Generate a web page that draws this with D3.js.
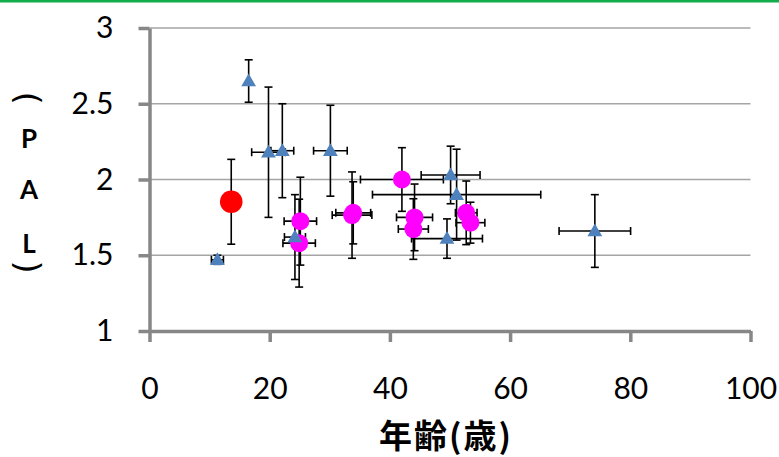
<!DOCTYPE html>
<html>
<head>
<meta charset="utf-8">
<script src="https://cdn.jsdelivr.net/npm/d3@7"></script>
<style>
  html, body { margin: 0; padding: 0; background: #fff; }
  svg { display: block; }
</style>
</head>
<body>
<svg id="chart" width="779" height="457"></svg>
<script>
// Axis ticks
const xTicks = [0, 20, 40, 60, 80, 100];
const yTicks = [1, 1.5, 2, 2.5, 3];

// Blue triangles: age, PAL, and their error half-widths
const triAge    = [11.3, 16.5, 19.8, 22.1, 30.1, 24.2, 49.5, 50.1, 51.1, 74.1];
const triPal    = [1.47, 2.65, 2.18, 2.19, 2.19, 1.62, 1.61, 2.03, 1.90, 1.66];
const triAgeErr = [1.0, 0, 2.8, 1.9, 2.8, 1.75, 5.9, 4.9, 14.0, 5.95];
const triPalErr = [0.03, 0.14, 0.43, 0.31, 0.30, 0.28, 0.13, 0.19, 0.30, 0.24];

// Magenta circles
const magAge    = [25.1, 24.9, 33.7, 33.9, 42.0, 44.1, 43.9, 52.7, 53.4];
const magPal    = [1.725, 1.58, 1.765, 1.78, 2.00, 1.75, 1.673, 1.78, 1.715];
const magAgeErr = [2.7, 2.7, 3.3, 2.9, 6.9, 3.0, 2.5, 1.8, 2.4];
const magPalErr = [0.29, 0.29, 0.285, 0.205, 0.21, 0.22, 0.20, 0.21, 0.135];

// Red circle
const redAge    = [13.6];
const redPal    = [1.853];
const redAgeErr = [0];
const redPalErr = [0.28];

const svg = d3.select("#chart");

// top rule
svg.append("rect").attr("x", 0).attr("y", 0).attr("width", 779).attr("height", 2.5).attr("fill", "#12ad4b");

const x = d3.scaleLinear().domain([0, 100]).range([149.5, 750.5]);
const y = d3.scaleLinear().domain([1, 3]).range([331, 28]);

// horizontal gridlines
svg.append("g").selectAll("line").data(yTicks.filter(d => d > 1)).join("line")
  .attr("x1", x(0)).attr("x2", x(100))
  .attr("y1", d => y(d)).attr("y2", d => y(d))
  .attr("stroke", "#a5a5a5").attr("stroke-width", 1.5);

const tickFont = "Lato, 'Open Sans', sans-serif";

// y axis
const yAxis = svg.append("g").attr("transform", `translate(${x(0)},0)`)
  .call(d3.axisLeft(y).tickValues(yTicks).tickFormat(d3.format("~g")).tickSize(11).tickPadding(25).tickSizeOuter(0));
// x axis
const xAxis = svg.append("g").attr("transform", `translate(0,${y(1)})`)
  .call(d3.axisBottom(x).tickValues(xTicks).tickSize(11).tickPadding(36).tickSizeOuter(0));

[yAxis, xAxis].forEach(g => {
  g.select(".domain").attr("stroke", "#878787").attr("stroke-width", 3.5);
  g.selectAll(".tick line").attr("stroke", "#878787").attr("stroke-width", 3.5);
  g.selectAll(".tick text").attr("fill", "#000").style("font-family", tickFont).style("font-size", "30px");
});

// error bars
function errorBars(ages, pals, ageErr, palErr) {
  const g = svg.append("g").attr("stroke", "#000").attr("stroke-width", 1.6).attr("fill", "none");
  const cap = 4;
  ages.forEach((a, i) => {
    const cx = x(a), cy = y(pals[i]);
    if (palErr[i] > 0) {
      const y0 = y(pals[i] + palErr[i]), y1 = y(pals[i] - palErr[i]);
      g.append("line").attr("x1", cx).attr("x2", cx).attr("y1", y0).attr("y2", y1);
      g.append("line").attr("x1", cx - cap).attr("x2", cx + cap).attr("y1", y0).attr("y2", y0);
      g.append("line").attr("x1", cx - cap).attr("x2", cx + cap).attr("y1", y1).attr("y2", y1);
    }
    if (ageErr[i] > 0) {
      const x0 = x(a - ageErr[i]), x1 = x(a + ageErr[i]);
      g.append("line").attr("x1", x0).attr("x2", x1).attr("y1", cy).attr("y2", cy);
      g.append("line").attr("x1", x0).attr("x2", x0).attr("y1", cy - cap).attr("y2", cy + cap);
      g.append("line").attr("x1", x1).attr("x2", x1).attr("y1", cy - cap).attr("y2", cy + cap);
    }
  });
}
errorBars(magAge, magPal, magAgeErr, magPalErr);
errorBars(triAge, triPal, triAgeErr, triPalErr);
errorBars(redAge, redPal, redAgeErr, redPalErr);

// magenta circles
svg.append("g").selectAll("circle").data(magAge).join("circle")
  .attr("cx", d => x(d)).attr("cy", (d, i) => y(magPal[i])).attr("r", 9)
  .attr("fill", "#ff00ff");

// blue triangles
const tri = d3.symbol().type(d3.symbolTriangle).size(95);
svg.append("g").selectAll("path").data(triAge).join("path")
  .attr("d", tri)
  .attr("transform", (d, i) => `translate(${x(d)},${y(triPal[i]) + 1})`)
  .attr("fill", "#4f81bd");

// red circle
svg.append("g").selectAll("circle").data(redAge).join("circle")
  .attr("cx", d => x(d)).attr("cy", (d, i) => y(redPal[i])).attr("r", 11.3)
  .attr("fill", "#ff0000");

// y title: stacked letters between sideways parentheses
const yt = svg.append("g").attr("fill", "#000");
const cjk = "'Noto Sans CJK JP', sans-serif";
[["(", 98], [")", 267]].forEach(([t, cy]) => {
  yt.append("text").attr("text-anchor", "middle").attr("dominant-baseline", "central")
    .attr("transform", `translate(28,${cy}) rotate(90)`)
    .style("font-family", "'DejaVu Sans', sans-serif").style("font-size", "34px").style("font-weight", 400)
    .text(t);
});
[["P", 137.5], ["A", 189], ["L", 242.5]].forEach(([t, cy]) => {
  yt.append("text").attr("x", 29).attr("y", cy).attr("text-anchor", "middle")
    .attr("dominant-baseline", "central")
    .style("font-family", tickFont).style("font-weight", 700).style("font-size", "26px").text(t);
});

// x title
svg.append("text").attr("x", (x(0) + x(100)) / 2 - 4).attr("y", 448)
  .attr("text-anchor", "middle")
  .style("font-family", cjk).style("font-weight", 700).style("font-size", "33px")
  .style("letter-spacing", "2px")
  .attr("fill", "#000").text("年齢(歳)");
</script>
</body>
</html>
